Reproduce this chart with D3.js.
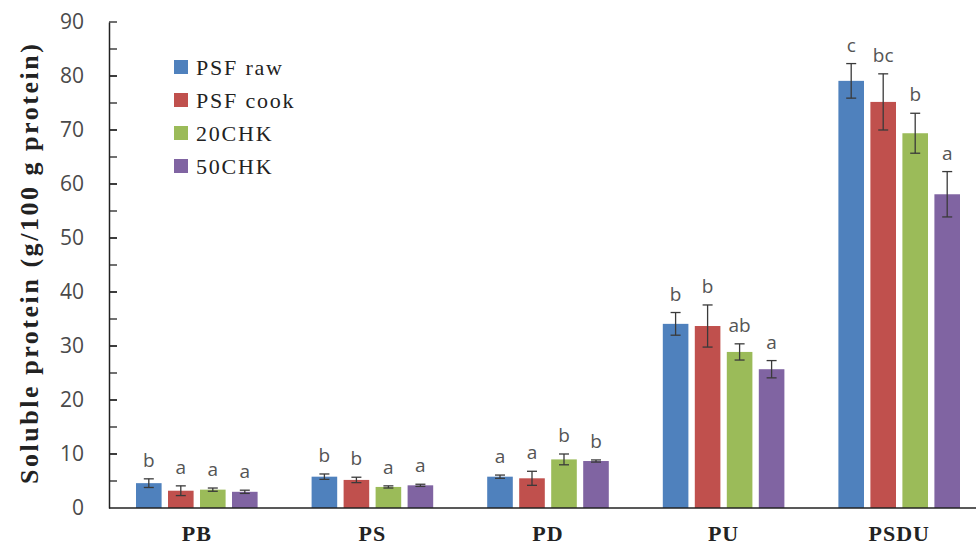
<!DOCTYPE html>
<html>
<head>
<meta charset="utf-8">
<script src="https://cdn.jsdelivr.net/npm/d3@7"></script>
<style>
  body { margin: 0; background: #fff; }
  #chart { width: 976px; height: 545px; }
</style>
</head>
<body>
<div id="chart"></div>
<script>
// data
const categories = ["PB", "PS", "PD", "PU", "PSDU"];
const series = ["PSF raw", "PSF cook", "20CHK", "50CHK"];
const colors = ["#4f81bd", "#c0504d", "#9bbb59", "#8064a2"];

const psfRaw  = [4.6, 5.8, 5.8, 34.1, 79.1];
const psfCook = [3.2, 5.2, 5.5, 33.7, 75.2];
const chk20   = [3.4, 3.9, 9.0, 28.9, 69.4];
const chk50   = [3.0, 4.2, 8.7, 25.7, 58.1];

const errRaw  = [0.8, 0.5, 0.3, 2.1, 3.2];
const errCook = [0.9, 0.5, 1.3, 3.9, 5.2];
const err20   = [0.3, 0.2, 1.0, 1.5, 3.7];
const err50   = [0.3, 0.2, 0.2, 1.6, 4.2];

const lettersRaw  = ["b", "b", "a", "b", "c"];
const lettersCook = ["a", "b", "a", "b", "bc"];
const letters20   = ["a", "a", "b", "ab", "b"];
const letters50   = ["a", "a", "b", "a", "a"];

const yTicks = [0, 10, 20, 30, 40, 50, 60, 70, 80, 90];

const values = [psfRaw, psfCook, chk20, chk50];
const errors = [errRaw, errCook, err20, err50];
const letters = [lettersRaw, lettersCook, letters20, letters50];

// flatten into one row per bar
let rows = [];
categories.forEach(function (c, ci) {
    series.forEach(function (s, si) {
        rows.push({cat: c, ser: s, si: si, v: values[si][ci], e: errors[si][ci], l: letters[si][ci]});
    });
});

const width = 976, height = 545;
const margin = {top: 22, left: 109, bottom: 37};

const svg = d3.select("#chart").append("svg")
    .attr("width", width)
    .attr("height", height);

const x = d3.scaleBand()
    .domain(categories)
    .range([margin.left, 987]);

const xs = d3.scaleBand()
    .domain(series)
    .range([27, x.bandwidth() - 27])
    .paddingInner(0.2);

const y = d3.scaleLinear()
    .domain([0, 90])
    .range([height - margin.bottom, margin.top]);

// bars
const g = svg.append("g");
g.selectAll(".bar")
    .data(rows)
    .enter()
    .append("rect")
    .attr("class", "bar")
    .attr("x", d => x(d.cat) + xs(d.ser))
    .attr("width", xs.bandwidth())
    .attr("y", d => y(d.v))
    .attr("height", d => y(0) - y(d.v))
    .attr("fill", d => colors[d.si]);

// error bars
const eb = g.selectAll(".err")
    .data(rows)
    .enter()
    .append("g")
    .attr("class", "err")
    .attr("stroke", "#3a3a3a")
    .attr("stroke-width", 1.3);

eb.append("line")
    .attr("x1", d => x(d.cat) + xs(d.ser) + xs.bandwidth() / 2)
    .attr("x2", d => x(d.cat) + xs(d.ser) + xs.bandwidth() / 2)
    .attr("y1", d => y(d.v - d.e))
    .attr("y2", d => y(d.v + d.e));
[-1, 1].forEach(function (sgn) {
    eb.append("line")
        .attr("x1", d => x(d.cat) + xs(d.ser) + xs.bandwidth() / 2 - 5)
        .attr("x2", d => x(d.cat) + xs(d.ser) + xs.bandwidth() / 2 + 5)
        .attr("y1", d => y(d.v + sgn * d.e))
        .attr("y2", d => y(d.v + sgn * d.e));
});

// significance letters
g.selectAll(".letter")
    .data(rows)
    .enter()
    .append("text")
    .attr("class", "letter")
    .attr("x", d => x(d.cat) + xs(d.ser) + xs.bandwidth() / 2)
    .attr("y", d => y(d.v + d.e) - 12)
    .attr("text-anchor", "middle")
    .attr("font-family", "'Open Sans', sans-serif")
    .attr("font-size", 19)
    .attr("fill", "#555")
    .text(d => d.l);

// y axis
const yAxis = svg.append("g")
    .attr("transform", `translate(${margin.left},0)`)
    .call(d3.axisLeft(y).tickValues(yTicks).tickSize(0).tickPadding(25));
yAxis.select(".domain").attr("stroke", "#222").attr("stroke-width", 1.5);
yAxis.selectAll("text")
    .attr("font-family", "'Open Sans', sans-serif")
    .attr("font-size", 21)
    .attr("fill", "#4a4a4a");

// inward ticks every 5
const minor = d3.range(5, 90, 5).concat(yTicks.slice(1));
svg.append("g").selectAll("line")
    .data(minor)
    .enter()
    .append("line")
    .attr("x1", margin.left)
    .attr("x2", margin.left + 8)
    .attr("y1", d => y(d))
    .attr("y2", d => y(d))
    .attr("stroke", "#222")
    .attr("stroke-width", 1.3);

// x axis
svg.append("line")
    .attr("x1", margin.left)
    .attr("x2", width)
    .attr("y1", y(0))
    .attr("y2", y(0))
    .attr("stroke", "#222")
    .attr("stroke-width", 1.5);

svg.append("g").selectAll("text")
    .data(categories)
    .enter()
    .append("text")
    .attr("x", d => x(d) + x.bandwidth() / 2)
    .attr("y", 541)
    .attr("text-anchor", "middle")
    .attr("font-family", "'Liberation Serif', serif")
    .attr("font-weight", "bold")
    .attr("font-size", 22)
    .attr("letter-spacing", 1)
    .attr("fill", "#222")
    .text(d => d);

// y title
svg.append("text")
    .attr("transform", "translate(38,264) rotate(-90)")
    .attr("text-anchor", "middle")
    .attr("font-family", "'Liberation Serif', serif")
    .attr("font-weight", "bold")
    .attr("font-size", 26)
    .attr("textLength", 440)
    .attr("lengthAdjust", "spacing")
    .attr("fill", "#222")
    .text("Soluble protein (g/100 g protein)");

// legend
const leg = svg.append("g").attr("transform", "translate(174,60)");
const li = leg.selectAll(".leg")
    .data(series)
    .enter()
    .append("g")
    .attr("transform", (d, i) => `translate(0,${i * 33})`);
li.append("rect")
    .attr("width", 14)
    .attr("height", 14)
    .attr("fill", (d, i) => colors[i]);
li.append("text")
    .attr("x", 22)
    .attr("y", 15)
    .attr("font-family", "'Liberation Serif', serif")
    .attr("font-size", 22)
    .attr("letter-spacing", 1.8)
    .attr("fill", "#222")
    .text(d => d);
</script>
</body>
</html>
